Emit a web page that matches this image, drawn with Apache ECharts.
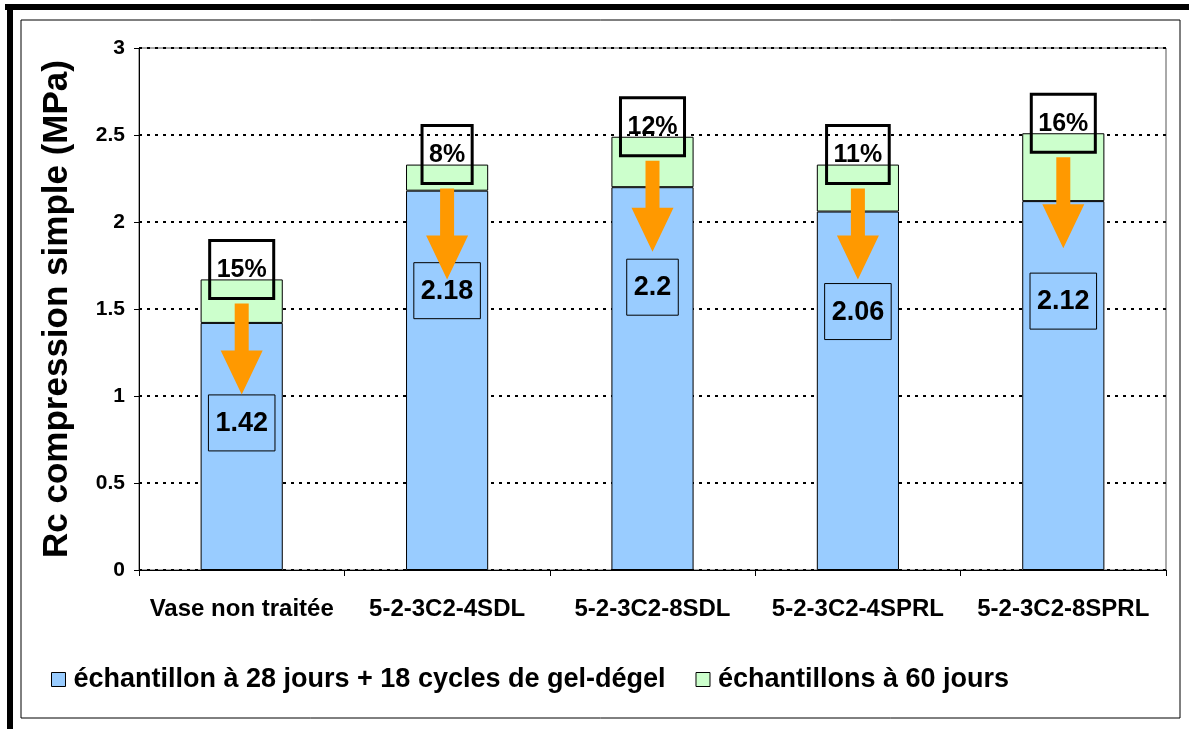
<!DOCTYPE html>
<html>
<head>
<meta charset="utf-8">
<script src="https://cdn.jsdelivr.net/npm/echarts@6/dist/echarts.min.js"></script>
<style>
html,body{margin:0;padding:0;background:#fff;}
#chart{width:1189px;height:729px;}
</style>
</head>
<body>
<div id="chart"></div>
<script>
var categories = ['Vase non traitée', '5-2-3C2-4SDL', '5-2-3C2-8SDL', '5-2-3C2-4SPRL', '5-2-3C2-8SPRL'];
var gelDegel = [1.42, 2.18, 2.2, 2.06, 2.12];
var jours60 = [1.67, 2.33, 2.49, 2.33, 2.51];
var pertes = ['15%', '8%', '12%', '11%', '16%'];
var yTicks = [0, 0.5, 1, 1.5, 2, 2.5, 3];
var seriesNames = ['échantillon à 28 jours + 18 cycles de gel-dégel', 'échantillons à 60 jours'];

var FONT = 'Liberation Sans, Arial, sans-serif';
var greenPart = jours60.map(function (v, i) { return +(v - gelDegel[i]).toFixed(3); });
var arrowData = categories.map(function (c, i) { return [i, jours60[i], gelDegel[i]]; });

var chart = echarts.init(document.getElementById('chart'), null, { renderer: 'canvas' });
chart.setOption({
  backgroundColor: '#ffffff',
  animation: false,
  graphic: [
    { type: 'rect', shape: { x: 21, y: 20, width: 1159, height: 698 }, style: { fill: 'none', stroke: '#000', lineWidth: 1 }, z: 0 },
    { type: 'rect', shape: { x: 5, y: 4, width: 1184, height: 6 }, style: { fill: '#000' }, z: 0 },
    { type: 'rect', shape: { x: 7, y: 4, width: 6, height: 725 }, style: { fill: '#000' }, z: 0 }
  ],
  grid: { left: 139, right: 23, top: 48, bottom: 159, show: true, borderColor: '#555', borderWidth: 1, backgroundColor: 'transparent' },
  legend: {
    data: seriesNames,
    left: 51, top: 666, padding: 0,
    icon: 'rect', itemWidth: 14, itemHeight: 14, itemGap: 30,
    itemStyle: { borderColor: '#000', borderWidth: 1 },
    textStyle: { fontFamily: FONT, fontWeight: 'bold', fontSize: 27, color: '#000', padding: [0, 0, 0, 3] }
  },
  xAxis: {
    type: 'category', data: categories,
    axisLine: { lineStyle: { color: '#000', width: 1 } },
    axisTick: { show: true, length: 6, lineStyle: { color: '#000' } },
    axisLabel: { interval: 0, hideOverlap: false, margin: 27, fontFamily: FONT, fontWeight: 'bold', fontSize: 24, color: '#000' },
    splitLine: { show: false }
  },
  yAxis: {
    type: 'value', min: 0, max: 3, interval: 0.5,
    name: 'Rc compression simple (MPa)', nameLocation: 'middle', nameGap: 64,
    nameTextStyle: { fontFamily: FONT, fontWeight: 'bold', fontSize: 35, color: '#000' },
    axisLine: { show: true, lineStyle: { color: '#000', width: 1 } },
    axisTick: { show: true, length: 5, lineStyle: { color: '#000' } },
    axisLabel: { margin: 14, fontFamily: FONT, fontWeight: 'bold', fontSize: 21, color: '#000',
      formatter: function (v) { return yTicks.indexOf(v) >= 0 ? String(v) : ''; } },
    splitLine: { show: true, lineStyle: { color: '#000', width: 2, type: [3, 5] } }
  },
  series: [
    {
      name: seriesNames[0], type: 'bar', stack: 'rc', data: gelDegel, barWidth: '40%',
      itemStyle: { color: '#99CCFF', borderColor: '#000', borderWidth: 1 },
      label: {
        show: true, position: 'insideTop', distance: 72,
        formatter: function (p) { return String(gelDegel[p.dataIndex]); },
        fontFamily: FONT, fontWeight: 'bold', fontSize: 27, lineHeight: 27, color: '#000',
        borderColor: '#000', borderWidth: 1, padding: [15, 7, 14, 7]
      },
      z: 2
    },
    {
      name: seriesNames[1], type: 'bar', stack: 'rc', data: greenPart, barWidth: '40%',
      itemStyle: { color: '#CCFFCC', borderColor: '#000', borderWidth: 1 },
      label: {
        show: true, position: 'top', distance: 0, offset: [0, 19],
        formatter: function (p) { return pertes[p.dataIndex]; },
        fontFamily: FONT, fontWeight: 'bold', fontSize: 25, lineHeight: 25, color: '#000',
        borderColor: '#000', borderWidth: 3, padding: [17, 7, 16, 7]
      },
      z: 2
    },
    {
      name: 'fleches', type: 'custom', data: arrowData, z: 5,
      encode: { x: 0, y: 1 },
      renderItem: function (params, api) {
        var top = api.coord([api.value(0), api.value(1)]);
        var cx = top[0];
        var y0 = top[1] + 24;
        var len = 91, head = 44, sw = 7, hw = 21;
        var y1 = y0 + len - head, y2 = y0 + len;
        return {
          type: 'polygon',
          shape: { points: [[cx - sw, y0], [cx + sw, y0], [cx + sw, y1], [cx + hw, y1], [cx, y2], [cx - hw, y1], [cx - sw, y1]] },
          style: { fill: '#FF9900' }
        };
      }
    }
  ]
});
</script>
</body>
</html>
